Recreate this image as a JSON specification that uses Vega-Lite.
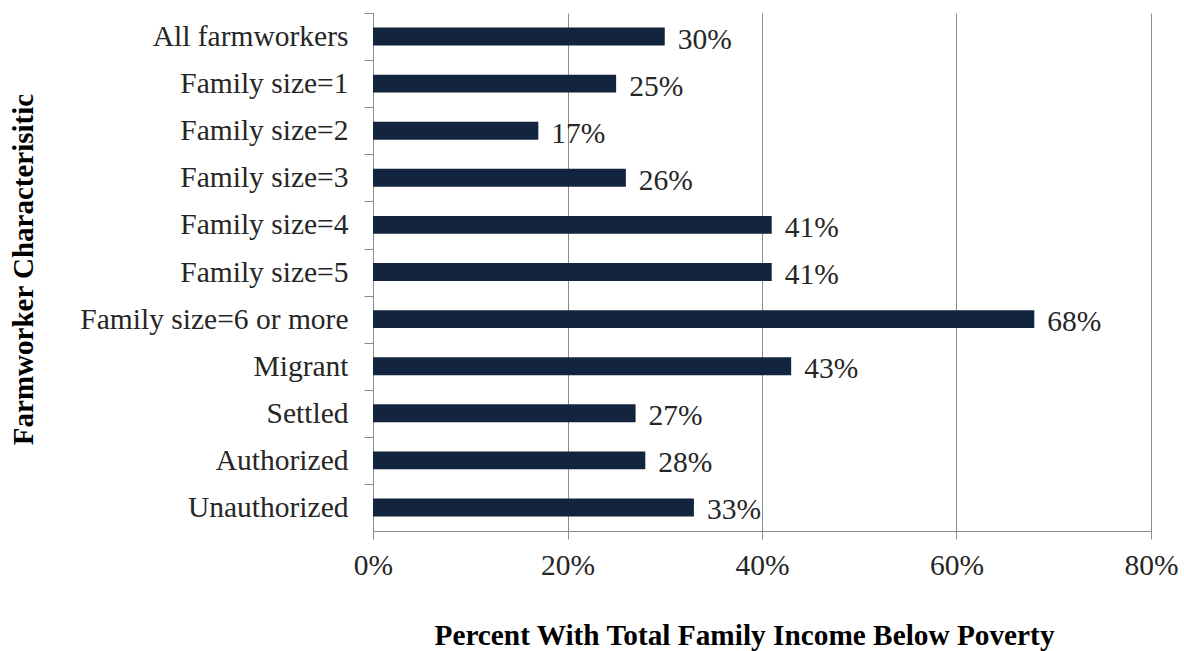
{
  "$schema": "https://vega.github.io/schema/vega-lite/v6.json",
  "width": 778,
  "height": 518,
  "autosize": {"type": "none"},
  "padding": {"left": 373, "top": 13, "right": 33, "bottom": 120},
  "config": {"view": {"stroke": null}, "font": "Liberation Serif"},
  "data": {
    "values": [
      {"cat": "All farmworkers", "value": 0.30},
      {"cat": "Family size=1", "value": 0.25},
      {"cat": "Family size=2", "value": 0.17},
      {"cat": "Family size=3", "value": 0.26},
      {"cat": "Family size=4", "value": 0.41},
      {"cat": "Family size=5", "value": 0.41},
      {"cat": "Family size=6 or more", "value": 0.68},
      {"cat": "Migrant", "value": 0.43},
      {"cat": "Settled", "value": 0.27},
      {"cat": "Authorized", "value": 0.28},
      {"cat": "Unauthorized", "value": 0.33}
    ]
  },
  "encoding": {
    "y": {
      "field": "cat",
      "type": "nominal",
      "sort": null,
      "scale": {"paddingInner": 0.62, "paddingOuter": 0.31},
      "axis": {
        "title": "Farmworker Characterisitic",
        "tickOffset": -23.5,
        "labelOffset": 23.5,
        "tickSize": 9,
        "labelPadding": 16,
        "labelFont": "Liberation Serif",
        "labelFontSize": 29.5,
        "labelColor": "#262626",
        "labelLimit": 400,
        "domainColor": "#8c8c8c",
        "tickColor": "#8c8c8c",
        "titleFont": "Liberation Serif",
        "titleFontSize": 29,
        "titleFontWeight": "bold",
        "titleColor": "#000000",
        "titleX": -350,
        "titleY": 256,
        "titleAngle": -90,
        "titleAlign": "center",
        "titleBaseline": "middle"
      }
    }
  },
  "layer": [
    {
      "mark": {"type": "bar", "color": "#13243f"},
      "encoding": {
        "x": {
          "field": "value",
          "type": "quantitative",
          "scale": {"domain": [0, 0.8], "nice": false},
          "axis": {
            "values": [0, 0.2, 0.4, 0.6, 0.8],
            "format": ".0%",
            "grid": true,
            "gridColor": "#8c8c8c",
            "domainColor": "#8c8c8c",
            "tickColor": "#8c8c8c",
            "tickSize": 8,
            "labelPadding": 12,
            "labelFlush": false,
            "labelFont": "Liberation Serif",
            "labelFontSize": 29.5,
            "labelColor": "#262626",
            "title": "Percent With Total Family Income Below Poverty",
            "titleFont": "Liberation Serif",
            "titleFontSize": 29.3,
            "titleFontWeight": "bold",
            "titleColor": "#000000",
            "titleX": 371,
            "titleY": 104,
            "titleAlign": "center",
            "titleBaseline": "middle"
          }
        }
      }
    },
    {
      "mark": {"type": "text", "align": "left", "baseline": "middle", "dx": 13, "dy": 3, "fontSize": 29.5, "color": "#262626", "font": "Liberation Serif"},
      "encoding": {
        "x": {"field": "value", "type": "quantitative"},
        "text": {"field": "value", "type": "quantitative", "format": ".0%"}
      }
    }
  ]
}
